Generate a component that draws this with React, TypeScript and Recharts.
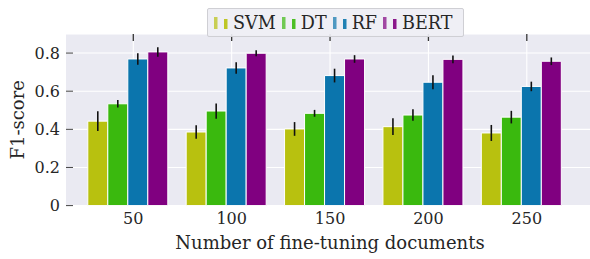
import { Bar, BarChart, CartesianGrid, ErrorBar, Label, XAxis, YAxis } from 'recharts'

const categories = ['50', '100', '150', '200', '250']
const svm = [0.443, 0.386, 0.402, 0.414, 0.381]
const svmErr = [0.052, 0.036, 0.036, 0.044, 0.042]
const dt = [0.534, 0.496, 0.484, 0.475, 0.464]
const dtErr = [0.02, 0.04, 0.018, 0.03, 0.033]
const rf = [0.769, 0.722, 0.682, 0.647, 0.625]
const rfErr = [0.03, 0.03, 0.036, 0.037, 0.025]
const bert = [0.806, 0.799, 0.769, 0.767, 0.757]
const bertErr = [0.025, 0.016, 0.02, 0.02, 0.02]
const yTicks = [0, 0.2, 0.4, 0.6, 0.8]

const series = [
  { key: 'svm', name: 'SVM', color: '#b8c10f' },
  { key: 'dt', name: 'DT', color: '#3ab90e' },
  { key: 'rf', name: 'RF', color: '#0b75ad' },
  { key: 'bert', name: 'BERT', color: '#800080' }
]

const data = categories.map((c, i) => ({
  cat: c,
  svm: svm[i],
  svmErr: svmErr[i],
  dt: dt[i],
  dtErr: dtErr[i],
  rf: rf[i],
  rfErr: rfErr[i],
  bert: bert[i],
  bertErr: bertErr[i]
}))

const FONT = '"DejaVu Serif", serif'
const TEXT = '#262626'
const TICK_SHIFT = 6.3 // matplotlib tick sits a bit right of the bar group centre
const TICK_LEN = 7
const PLOT_TOP = 34
const PAD = { left: 11.8, right: 24.3 }

const LeftTick = ({ x, y, payload }: any) => (
  <g>
    <line x1={x + 6} x2={x + 6 + TICK_LEN} y1={y} y2={y} stroke="#444" strokeWidth={1} />
    <text x={x} y={y} dy="0.36em" textAnchor="end" fontFamily={FONT} fontSize={16} fill={TEXT}>
      {payload.value === 0 ? '0' : payload.value.toFixed(1)}
    </text>
  </g>
)

const RightTick = ({ x, y }: any) => (
  <line x1={x - TICK_LEN} x2={x} y1={y} y2={y} stroke="#444" strokeWidth={1} />
)

// bottom label plus the inward tick on the top spine
const BottomTick = ({ x, y, payload }: any) => (
  <g>
    <line
      x1={x + TICK_SHIFT}
      x2={x + TICK_SHIFT}
      y1={PLOT_TOP}
      y2={PLOT_TOP + TICK_LEN}
      stroke="#333"
      strokeWidth={1.3}
    />
    <text x={x + TICK_SHIFT} y={y + 13} dy="0.36em" textAnchor="middle" fontFamily={FONT} fontSize={16} fill={TEXT}>
      {payload.value}
    </text>
  </g>
)

const LegendBox = () => (
  <div
    style={{
      position: 'absolute',
      left: 207,
      top: 8,
      display: 'flex',
      alignItems: 'center',
      gap: 6,
      padding: '0 10px 0 6px',
      height: 27,
      background: 'rgba(238,238,244,0.92)',
      border: '1px solid #cfcfd4',
      borderRadius: 2,
      fontFamily: FONT,
      fontSize: 17.6,
      color: TEXT,
      whiteSpace: 'nowrap'
    }}
  >
    {series.map((s) => (
      <div key={s.key} style={{ display: 'flex', alignItems: 'center' }}>
        <svg width={14} height={14} style={{ marginRight: 5 }}>
          <rect x={0} y={1} width={3.5} height={12} fill={s.color} opacity={0.7} />
          <rect x={10} y={3} width={3.5} height={10} fill={s.color} opacity={0.9} />
        </svg>
        <span>{s.name}</span>
      </div>
    ))}
  </div>
)

const xLabel = ({ viewBox }: any) => (
  <text
    x={viewBox.x + viewBox.width / 2}
    y={viewBox.y + 37}
    dy="0.36em"
    textAnchor="middle"
    fontFamily={FONT}
    fontSize={18}
    fill={TEXT}
  >
    Number of fine-tuning documents
  </text>
)

const yLabel = ({ viewBox }: any) => {
  const cx = 18
  const cy = viewBox.y + viewBox.height / 2
  return (
    <text
      x={cx}
      y={cy}
      dy="0.36em"
      textAnchor="middle"
      transform={`rotate(-90 ${cx} ${cy})`}
      fontFamily={FONT}
      fontSize={18}
      fill={TEXT}
    >
      F1-score
    </text>
  )
}

// vertical grid lines sit on the (shifted) category ticks
const verticalLines = ({ offset }: any) => {
  const bw = (offset.width - PAD.left - PAD.right) / categories.length
  return categories.map((_, i) => offset.left + PAD.left + bw * (i + 0.5) + TICK_SHIFT)
}

export default function App() {
  return (
    <div style={{ position: 'absolute', left: 0, top: 0, width: 590, height: 259, overflow: 'hidden', background: '#fff' }}>
      <BarChart
        width={594}
        height={259}
        data={data}
        margin={{ top: PLOT_TOP, right: 0, bottom: 0.4, left: 6 }}
        barCategoryGap={10}
        barGap={0}
      >
        <CartesianGrid
          stroke="#ffffff"
          strokeWidth={1.1}
          fill="#eaeaf2"
          fillOpacity={1}
          verticalCoordinatesGenerator={verticalLines}
        />
        <XAxis
          dataKey="cat"
          height={53}
          padding={PAD}
          axisLine={false}
          tickLine={false}
          tickSize={0}
          tickMargin={0}
          tick={<BottomTick />}
          interval={0}
        >
          <Label content={xLabel} />
        </XAxis>
        <YAxis
          width={60}
          domain={[0, 0.9]}
          ticks={yTicks}
          axisLine={false}
          tickLine={false}
          tickSize={0}
          tickMargin={6}
          tick={<LeftTick />}
          interval={0}
        >
          <Label content={yLabel} />
        </YAxis>
        <YAxis
          yAxisId="right"
          orientation="right"
          width={0}
          domain={[0, 0.9]}
          ticks={yTicks}
          axisLine={false}
          tickLine={false}
          tickSize={0}
          tickMargin={0}
          tick={<RightTick />}
          interval={0}
        />
        {series.map((s) => (
          <Bar
            key={s.key}
            dataKey={s.key}
            name={s.name}
            fill={s.color}
            stroke="#ffffff"
            strokeWidth={1}
            isAnimationActive={false}
          >
            <ErrorBar dataKey={`${s.key}Err`} width={0} stroke="#111" strokeWidth={1.6} direction="y" />
          </Bar>
        ))}
      </BarChart>
      <LegendBox />
    </div>
  )
}
